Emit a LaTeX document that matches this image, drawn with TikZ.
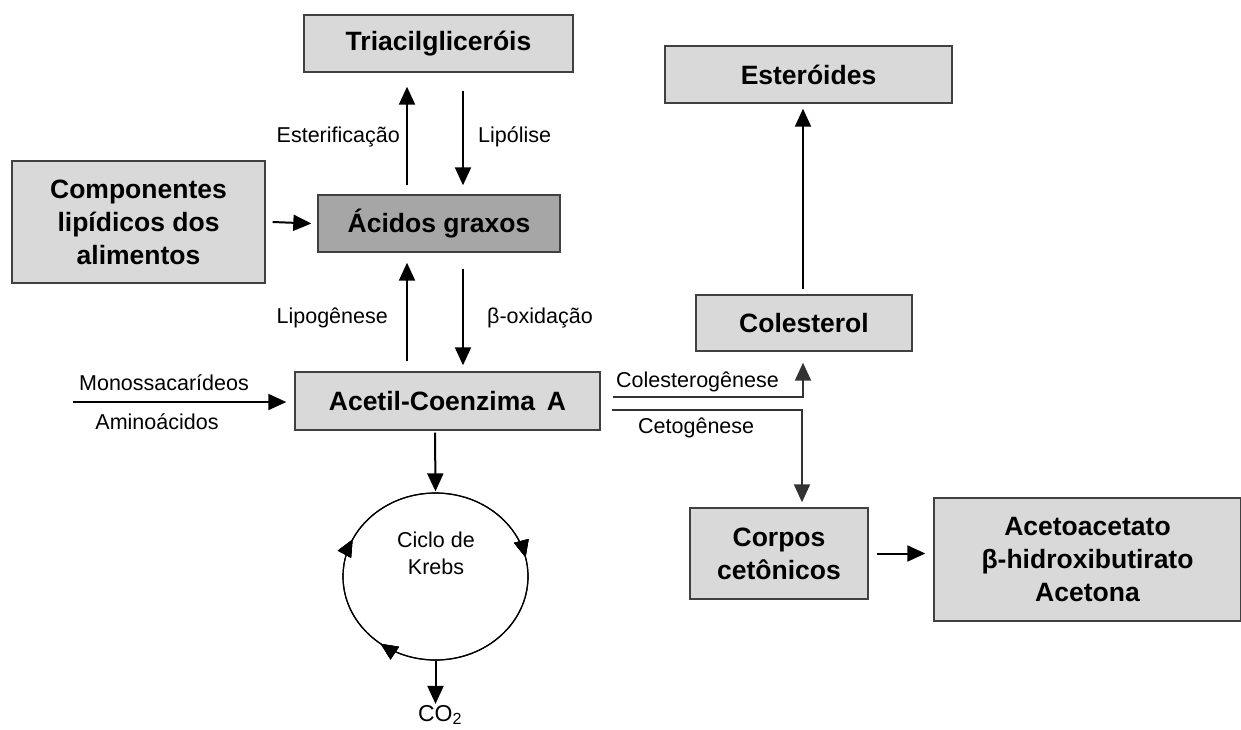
\documentclass[tikz,border=0pt]{standalone}
\usepackage{fontspec}
\setmainfont{Liberation Sans}
\usetikzlibrary{arrows.meta,calc,shapes.geometric,decorations.markings}
\definecolor{boxfill}{HTML}{D9D9D9}
\definecolor{boxdark}{HTML}{A6A6A6}
\definecolor{boxline}{HTML}{404040}
\definecolor{gline}{HTML}{333333}
\begin{document}
\begin{tikzpicture}[x=1pt,y=-1pt,
  box/.style={draw=boxline,fill=boxfill,line width=1.4pt,inner sep=0pt,align=center,
    font=\fontsize{26.5}{33}\selectfont\bfseries},
  arr/.style={line width=2pt,-{Triangle[width=16pt,length=18pt]}},
  garr/.style={draw=gline,line width=2pt,-{Triangle[width=16pt,length=18pt]}},
  lbl/.style={inner sep=0pt,font=\fontsize{21.5}{27}\selectfont,align=center},
  mk/.style={decoration={markings,mark=at position #1 with {\arrow{Triangle[width=15pt,length=17pt]}}},postaction={decorate}}]
\useasboundingbox (0,0) rectangle (1241,729);

% boxes
\node[box,minimum width=269pt,minimum height=57pt] (tri) at (438.5,43.5) {Triacilgliceróis};
\node[box,minimum width=287pt,minimum height=57pt] (est) at (808.5,74.5) {Esteróides};
\node[box,minimum width=253pt,minimum height=122pt] (comp) at (138.5,222) {Componentes\\lipídicos dos\\alimentos};
\node[box,fill=boxdark,minimum width=242pt,minimum height=57pt] (acid) at (439,223.5) {Ácidos graxos};
\node[box,minimum width=216pt,minimum height=56pt] (col) at (804,323) {Colesterol};
\node[box,minimum width=305pt,minimum height=58pt] (acet) at (447.5,401) {Acetil-Coenzima\hspace{0.45em}A};
\node[box,minimum width=178pt,minimum height=91pt] (corp) at (779,553.5) {Corpos\\cetônicos};
\node[box,minimum width=307pt,minimum height=123pt] (ceto) at (1087.5,559.5) {Acetoacetato\\β-hidroxibutirato\\Acetona};

% Krebs cycle
\node[draw=black,line width=1.2pt,ellipse,minimum width=185pt,minimum height=167pt,inner sep=0pt] (krebs) at (435.5,576.5) {};
\node[lbl] (krebst) at (436,553) {Ciclo de\\Krebs};
\draw[line width=1.2pt,mk=0.355,mk=0.57,mk=0.965] (krebs.center) ++(92.5,0) arc[start angle=0,end angle=360,x radius=92.5,y radius=83.5];
\node[lbl,font=\fontsize{23}{27}\selectfont] (co2) at (440,715) {CO\textsubscript{2}};

% coordinates
\coordinate (xl) at (407,0);
\coordinate (xr) at (463,0);
\coordinate (xk) at (435,0);
\coordinate (xc) at (803,0);
\coordinate (mono) at (73,402);
\coordinate (cs) at (613,397);
\coordinate (cb) at (803,397);
\coordinate (gs) at (612,410);
\coordinate (gb) at (802,410);

% arrows
\draw[arr,shorten <=9pt,shorten >=14pt] (acid.north -| xl) -- (tri.south -| xl);
\draw[arr,shorten <=18pt,shorten >=9pt] (tri.south -| xr) -- (acid.north -| xr);
\draw[arr] ([xshift=7pt]comp.east) -- ([xshift=-6pt]acid.west);
\draw[arr,shorten <=10pt,shorten >=10pt] (acet.north -| xl) -- (acid.south -| xl);
\draw[arr,shorten <=16pt,shorten >=6pt] (acid.south -| xr) -- (acet.north -| xr);
\draw[arr,shorten >=8pt] (mono) -- (mono -| acet.west);
\draw[arr,shorten <=2pt,shorten >=1pt] (acet.south -| xk) -- (krebs.north);
\draw[arr,shorten >=1pt] (krebs.south) -- (krebs.south |- co2.north);
\draw[arr,shorten <=5pt,shorten >=5pt] (col.north -| xc) -- (est.south -| xc);
\draw[garr,shorten >=11pt] (cs) -- (cb) -- (col.south -| cb);
\draw[garr,shorten >=5pt] (gs) -- (gb) -- (corp.north -| gb);
\draw[arr,shorten <=8pt,shorten >=8pt] (corp.east) -- (corp.east -| ceto.west);

% labels
\node[lbl,anchor=east] (lest) at (400,137) {Esterificação};
\node[lbl,anchor=west] (llip) at (478,137) {Lipólise};
\node[lbl,anchor=east] (llipo) at (388,318) {Lipogênese};
\node[lbl,anchor=west] (lbeta) at (487,318) {β-oxidação};
\node[lbl] (lmono) at (164,383) {Monossacarídeos};
\node[lbl] (lamino) at (157,422) {Aminoácidos};
\node[lbl,anchor=west] (lcol) at (616,382) {Colesterogênese};
\node[lbl,anchor=west] (lceto) at (638,428) {Cetogênese};
\end{tikzpicture}
\end{document}
